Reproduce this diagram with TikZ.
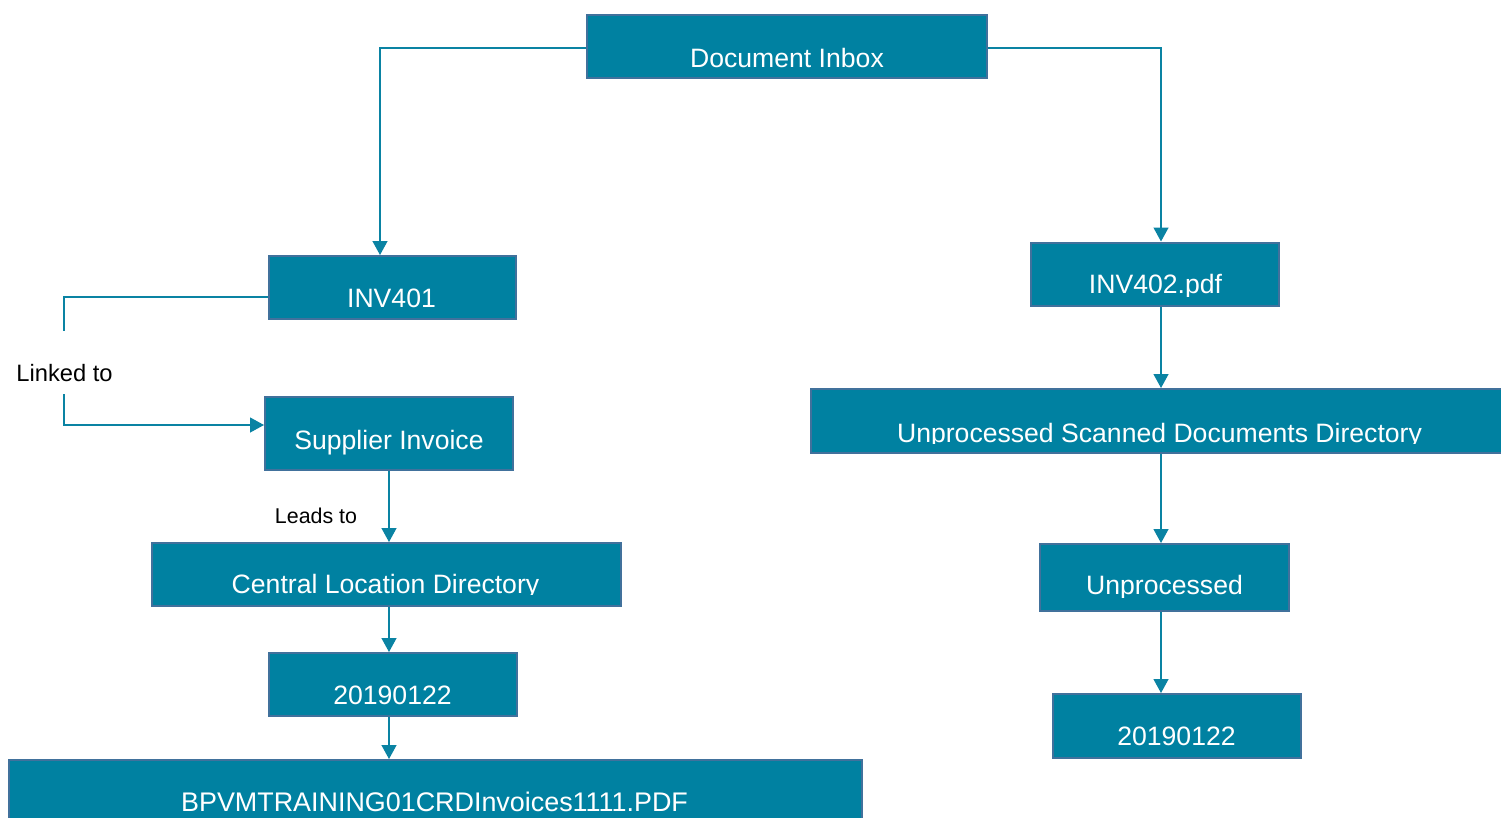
\documentclass[tikz,border=0pt]{standalone}
\usepackage{fontspec}
\setmainfont{Liberation Sans}
\usetikzlibrary{arrows.meta}
\definecolor{boxfill}{HTML}{0081A1}
\definecolor{boxline}{HTML}{41719C}
\definecolor{conn}{HTML}{0A83A3}
\tikzset{
  box/.style={draw=boxline, line width=2pt, fill=boxfill, inner sep=0pt, minimum width=#1},
  boxtxt/.style={text=white, inner sep=0pt, anchor=base, font=\fontsize{26.6}{30}\selectfont},
  plaintxt/.style={text=black, inner sep=0pt, anchor=base},
  conline/.style={draw=conn, line width=1.3pt},
  arr/.style={conline, -{Triangle[width=15pt,length=14pt]}}
}
\begin{document}
\begin{tikzpicture}[x=1pt,y=-1pt]
\useasboundingbox (0,0) rectangle (1501,817);
% boxes
\node[box=400, minimum height=63] (b1) at (787,46.5) {};
\node[box=247, minimum height=63] (b2) at (392.5,287.5) {};
\node[box=248, minimum height=63] (b3) at (1155,274) {};
\node[box=248, minimum height=73] (b4) at (389,433.5) {};
\node[box=695, minimum height=64] (b5) at (1158,421) {};
\node[box=469, minimum height=63] (b6) at (386.5,574.5) {};
\node[box=249, minimum height=67] (b7) at (1164.5,577.5) {};
\node[box=248, minimum height=63] (b8) at (393,684.5) {};
\node[box=248, minimum height=64] (b9) at (1177,726) {};
\node[box=853, minimum height=70] (b10) at (435.5,795) {};
% box texts
\node[boxtxt] (t1) at (787,67) {Document Inbox};
\node[boxtxt] (t2) at (391.5,307) {INV401};
\begin{scope}
\clip ([xshift=2pt,yshift=-2pt]b3.north west) rectangle (b3.east |- 0,296);
\node[boxtxt] (t3) at (1155.5,293) {INV402.pdf};
\end{scope}
\node[boxtxt] (t4) at (389,449) {Supplier Invoice};
\begin{scope}
\clip ([xshift=2pt,yshift=-2pt]b5.north west) rectangle (b5.east |- 0,443.5);
\node[boxtxt] (t5) at (1159.5,442) {Unprocessed Scanned Documents Directory};
\end{scope}
\begin{scope}
\clip ([xshift=2pt,yshift=-2pt]b6.north west) rectangle (b6.east |- 0,594.5);
\node[boxtxt] (t6) at (385.5,593) {Central Location Directory};
\end{scope}
\begin{scope}
\clip ([xshift=2pt,yshift=-2pt]b7.north west) rectangle (b7.east |- 0,597);
\node[boxtxt] (t7) at (1164.5,594) {Unprocessed};
\end{scope}
\node[boxtxt] (t8) at (392.5,704) {20190122};
\node[boxtxt] (t9) at (1176.5,745) {20190122};
\node[boxtxt, font=\fontsize{26.9}{30}\selectfont] (t10) at (434.5,811) {BPVMTRAINING01CRDInvoices1111.PDF};
% labels
\node[plaintxt, font=\fontsize{23.7}{26}\selectfont] (linked) at (64.5,381) {Linked to};
\node[plaintxt, font=\fontsize{21.4}{24}\selectfont] (leads) at (316,523) {Leads to};
% helper coordinates
\coordinate (colA) at (380,0);
\coordinate (colB) at (1161,0);
\coordinate (colL) at (389,0);
\coordinate (topY) at (0,48);
\coordinate (inv1Y) at (0,297);
\coordinate (lnkEnd) at (64,331);
\coordinate (lnkStart) at (64,394);
\coordinate (supY) at (0,425);
% connectors
\draw[arr] (b1.west |- topY) -| (b2.north -| colA);
\draw[arr] (b1.east |- topY) -| (b3.north -| colB);
\draw[conline] (b2.west |- inv1Y) -| (lnkEnd);
\draw[arr] (lnkStart) |- (b4.west |- supY);
\draw[arr] (b4.south -| colL) -- (b6.north -| colL);
\draw[arr] (b6.south -| colL) -- (b8.north -| colL);
\draw[arr] (b8.south -| colL) -- (b10.north -| colL);
\draw[arr] (b3.south -| colB) -- (b5.north -| colB);
\draw[arr] (b5.south -| colB) -- (b7.north -| colB);
\draw[arr] (b7.south -| colB) -- (b9.north -| colB);
\end{tikzpicture}
\end{document}
